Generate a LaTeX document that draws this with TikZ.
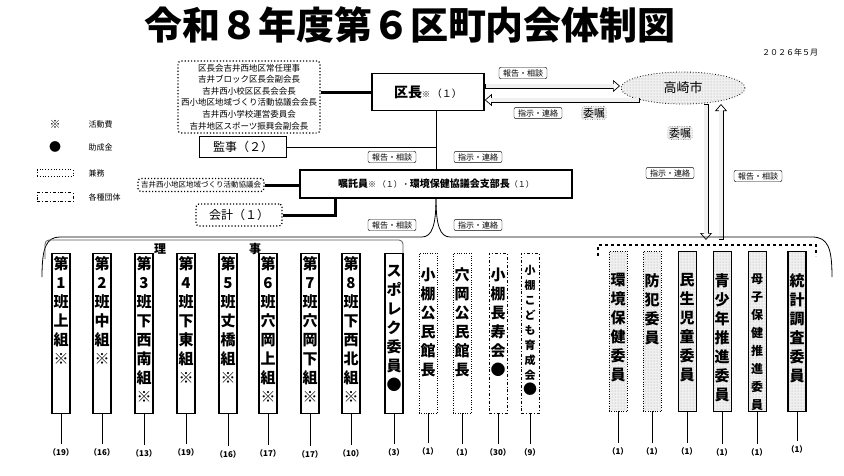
\documentclass[tikz,border=0pt]{standalone}
\usepackage{fontspec}
\setmainfont{Noto Sans CJK JP}
\usetikzlibrary{positioning,patterns,arrows.meta,shapes.geometric}
\begin{document}
\begin{tikzpicture}[x=1pt, y=-1pt, thick, font=\fontsize{9}{11}\selectfont]
    \tikzstyle{tag} = [draw, thin, rounded corners=2pt, font=\fontsize{8}{9}\selectfont, inner sep=2pt, minimum width=48]
    \tikzstyle{kenmu} = [draw, dotted, very thick, rounded corners=3pt]
    \tikzstyle{dotfill} = [preaction={fill=gray!12}, pattern=dots, pattern color=gray!70]
    \tikzstyle{boss} = [draw, line width=1.6pt, font=\fontsize{10}{12}\selectfont]
    \tikzstyle{col} = [draw, minimum width=18, minimum height=160, anchor=north, inner sep=0pt]
    \tikzstyle{colk} = [col, dotted, thin, dotfill]
    \tikzstyle{cold} = [col, dotfill]
    \tikzstyle{cola} = [col, dash dot]
    \tikzstyle{vt} = [align=center, font=\bfseries\fontsize{15}{19}\selectfont, inner sep=0pt]
    \tikzstyle{cnt} = [font=\bfseries\fontsize{8}{9}\selectfont]
    \tikzstyle{link} = [line width=3pt]
    \tikzstyle{hollow} = [line width=5pt, -{Triangle[length=7pt, width=12pt, fill=white, line width=0.7pt]}, postaction={draw=gray!12, line width=3.4pt, shorten >=6pt, shorten <=0.8pt, -}]
    \useasboundingbox (0,0) rectangle (844,475);

    % Title
    \node[font=\bfseries\fontsize{38}{40}\selectfont] (title) at (410,25) {令和８年度第６区町内会体制図};
    \node[font=\fontsize{8}{9}\selectfont] (date) at (790,52) {２０２６年５月};

    % Legend
    \node[font=\fontsize{11}{12}\selectfont] (l1) at (55,124) {※};
    \node[anchor=west, font=\fontsize{8}{9}\selectfont] (l1t) at (85,124) {活動費};
    \node[font=\fontsize{12}{12}\selectfont] (l2) at (55,147) {●};
    \node[anchor=west, font=\fontsize{8}{9}\selectfont] (l2t) at (85,147) {助成金};
    \node[draw, dotted, thick, minimum width=36, minimum height=7, inner sep=0pt] (l3) at (55,173) {};
    \node[anchor=west, font=\fontsize{8}{9}\selectfont] (l3t) at (85,173) {兼務};
    \node[draw, dash dot, thick, minimum width=36, minimum height=9, inner sep=0pt] (l4) at (55,197) {};
    \node[anchor=west, font=\fontsize{8}{9}\selectfont] (l4t) at (85,197) {各種団体};

    % Top
    \node[kenmu, align=center, font=\fontsize{8.5}{11.6}\selectfont, inner sep=3pt] (kenmu1) at (249,97)
        {区長会吉井西地区常任理事\\吉井ブロック区長会副会長\\吉井西小校区区長会会長\\西小地区地域づくり活動協議会会長\\吉井西小学校運営委員会\\吉井地区スポーツ振興会副会長};
    \node[boss, minimum width=112, minimum height=37] (kucho) at (428,92) {\fontsize{14}{15}\selectfont\bfseries 区長\fontsize{8}{9}\selectfont\mdseries ※ \fontsize{10}{12}\selectfont（１）};
    \draw[link] (kenmu1.east |- kucho.west) -- (kucho.west);

    \node[ellipse, draw, dotted, thick, dotfill, minimum width=124, minimum height=32] (city) at (683,88) {};
    \node[font=\fontsize{13}{14}\selectfont] (citytxt) at (683,88) {高崎市};
    \draw[hollow] (kucho.east |- 0,86) -- (620,86);
    \draw[hollow] (640,100) -- (kucho.east |- 0,100);
    \node[tag] (t1) at (523,73) {報告・相談};
    \node[tag] (t2) at (538,113) {指示・連絡};
    \node[kenmu, thin, dotfill, font=\fontsize{11}{12}\selectfont, inner sep=1.5pt] (irai1) at (594,113) {委嘱};

    \coordinate (cd) at (706,104);
    \coordinate (cu) at (721,104);
    \coordinate (bd) at (706,240);
    \coordinate (bu) at (721,240);
    \draw[hollow] (cd) -- (bd);
    \draw[hollow] (bu) -- (cu);
    \node[kenmu, thin, dotfill, font=\fontsize{11}{12}\selectfont, inner sep=1.5pt] (irai2) at (680,133) {委嘱};
    \node[tag] (t3) at (670,173) {指示・連絡};
    \node[tag] (t4) at (758,176) {報告・相談};

    % Middle
    \node[draw, minimum width=87, minimum height=21, font=\fontsize{12}{13}\selectfont] (kanji) at (243,147) {監事（２）};
    \node[boss, minimum width=272, minimum height=28] (shoku) at (436,184) {\bfseries 嘱託員\fontsize{8}{9}\selectfont\mdseries ※ （１）・\fontsize{10}{12}\selectfont\bfseries 環境保健協議会支部長\mdseries\fontsize{8}{9}\selectfont （１）};
    \draw (kucho.south -| shoku.north) -- (shoku.north);
    \draw (kanji.east) -- (shoku.north |- kanji.east);
    \node[tag] (t5) at (392,157) {報告・相談};
    \node[tag] (t6) at (478,157) {指示・連絡};

    \node[kenmu, font=\fontsize{7.5}{9}\selectfont, inner sep=3pt] (kenmu2) at (201,185) {吉井西小地区地域づくり活動協議会};
    \draw[link] (kenmu2.east) -- (shoku.west |- kenmu2.east);
    \node[kenmu, minimum width=86, minimum height=22, font=\fontsize{12}{13}\selectfont] (kaikei) at (239,215) {会計（１）};
    \draw[link] (kaikei.east) -| (335,198);
    \node[tag] (t7) at (392,225) {報告・相談};
    \node[tag] (t8) at (478,225) {指示・連絡};

    % Brace
    \draw (42,277) .. controls (42,248) and (46,237) .. (60,237) -- (422,237) .. controls (432,237) and (436,225) .. (shoku.south);
    \draw (shoku.south) .. controls (436,225) and (440,237) .. (450,237) -- (812,237) .. controls (828,237) and (832,248) .. (832,277);
    \draw[gray!70!black, rounded corners=4pt] (45,259) -- (45,240) -- (403,240) -- (403,259);
    \node[font=\bfseries\fontsize{12}{14}\selectfont, fill=white, inner sep=1pt] (ri) at (160,249) {理};
    \node[font=\bfseries\fontsize{12}{14}\selectfont, fill=white, inner sep=1pt] (ji) at (255,249) {事};
    \draw[dashed, very thick] (598,256) -- (598,245) -- (816,245) -- (816,256);

    % Columns (left)
    \node[col, line width=1.3pt] (c1) at (61,253) {};
    \node[col, line width=1.3pt] (c2) at (102,253) {};
    \node[col, line width=1.3pt] (c3) at (144,253) {};
    \node[col, line width=1.3pt] (c4) at (186,253) {};
    \node[col, line width=1.3pt] (c5) at (228,253) {};
    \node[col, line width=1.3pt] (c6) at (268,253) {};
    \node[col, line width=1.3pt] (c7) at (310,253) {};
    \node[col, line width=1.3pt] (c8) at (351,253) {};
    \node[col, line width=1.3pt] (c9) at (394,253) {};
    \node[col, dotted, thin] (c10) at (428,253) {};
    \node[col, dotted, thin] (c11) at (462,253) {};
    \node[cola] (c12) at (498,253) {};
    \node[cola] (c13) at (530,253) {};
    \node[vt, below=3pt of c1.north] (v1) {第\\1\\班\\上\\組\\\mdseries ※};
    \node[vt, below=3pt of c2.north] (v2) {第\\2\\班\\中\\組\\\mdseries ※};
    \node[vt, below=3pt of c3.north] (v3) {第\\3\\班\\下\\西\\南\\組\\\mdseries ※};
    \node[vt, below=3pt of c4.north] (v4) {第\\4\\班\\下\\東\\組\\\mdseries ※};
    \node[vt, below=3pt of c5.north] (v5) {第\\5\\班\\丈\\橋\\組\\\mdseries ※};
    \node[vt, below=3pt of c6.north] (v6) {第\\6\\班\\穴\\岡\\上\\組\\\mdseries ※};
    \node[vt, below=3pt of c7.north] (v7) {第\\7\\班\\穴\\岡\\下\\組\\\mdseries ※};
    \node[vt, below=3pt of c8.north] (v8) {第\\8\\班\\下\\西\\北\\組\\\mdseries ※};
    \node[vt, below=12pt of c9.north] (v9) {ス\\ポ\\レ\\ク\\委\\員\\●};
    \node[vt, below=14pt of c10.north] (v10) {小\\棚\\公\\民\\館\\長};
    \node[vt, below=14pt of c11.north] (v11) {穴\\岡\\公\\民\\館\\長};
    \node[vt, below=14pt of c12.north] (v12) {小\\棚\\長\\寿\\会\\●};
    \node[vt, below=12pt of c13.north, font=\bfseries\fontsize{11}{15}\selectfont] (v13) {小\\棚\\こ\\ど\\も\\育\\成\\会\\\fontsize{14}{15}\selectfont ●};

    % Columns (right)
    \node[colk] (c14) at (618,251) {};
    \node[colk] (c15) at (652,251) {};
    \node[cold] (c16) at (687,251) {};
    \node[cold] (c17) at (722,251) {};
    \node[cold] (c18) at (757,251) {};
    \node[cold, line width=1.2pt] (c19) at (797,251) {};
    \node[vt, below=22pt of c14.north] (v14) {環\\境\\保\\健\\委\\員};
    \node[vt, below=22pt of c15.north] (v15) {防\\犯\\委\\員};
    \node[vt, below=22pt of c16.north] (v16) {民\\生\\児\\童\\委\\員};
    \node[vt, below=22pt of c17.north] (v17) {青\\少\\年\\推\\進\\委\\員};
    \node[vt, below=22pt of c18.north, font=\bfseries\fontsize{12}{18}\selectfont] (v18) {母\\子\\保\\健\\推\\進\\委\\員};
    \node[vt, below=22pt of c19.north] (v19) {統\\計\\調\\査\\委\\員};

    % Counts
    \node[cnt] (n1) at (61,452) {（19）};
    \node[cnt] (n2) at (102,452) {（16）};
    \node[cnt] (n3) at (144,453) {（13）};
    \node[cnt] (n4) at (186,452) {（19）};
    \node[cnt] (n5) at (228,454) {（16）};
    \node[cnt] (n6) at (268,453) {（17）};
    \node[cnt] (n7) at (310,454) {（17）};
    \node[cnt] (n8) at (351,453) {（10）};
    \node[cnt] (n9) at (394,452) {（3）};
    \node[cnt] (n10) at (428,451) {（1）};
    \node[cnt] (n11) at (462,452) {（1）};
    \node[cnt] (n12) at (498,452) {（30）};
    \node[cnt] (n13) at (530,452) {（9）};
    \node[cnt] (n14) at (618,451) {（1）};
    \node[cnt] (n15) at (652,451) {（1）};
    \node[cnt] (n16) at (687,451) {（1）};
    \node[cnt] (n17) at (722,452) {（1）};
    \node[cnt] (n18) at (757,452) {（1）};
    \node[cnt] (n19) at (797,449) {（1）};
    \draw (c1.south) -- (n1.north);
    \draw (c2.south) -- (n2.north);
    \draw (c3.south) -- (n3.north);
    \draw (c4.south) -- (n4.north);
    \draw (c5.south) -- (n5.north);
    \draw (c6.south) -- (n6.north);
    \draw (c7.south) -- (n7.north);
    \draw (c8.south) -- (n8.north);
    \draw (c9.south) -- (n9.north);
    \draw (c10.south) -- (n10.north);
    \draw (c11.south) -- (n11.north);
    \draw (c12.south) -- (n12.north);
    \draw (c13.south) -- (n13.north);
    \draw (c14.south) -- (n14.north);
    \draw (c15.south) -- (n15.north);
    \draw (c16.south) -- (n16.north);
    \draw (c17.south) -- (n17.north);
    \draw (c18.south) -- (n18.north);
    \draw (c19.south) -- (n19.north);
\end{tikzpicture}
\end{document}
